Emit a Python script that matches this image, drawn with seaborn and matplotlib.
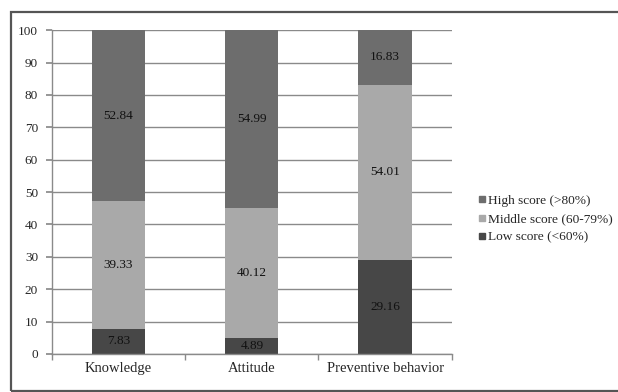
import matplotlib
matplotlib.use("Agg")
import matplotlib.pyplot as plt
from matplotlib.patches import Rectangle
import seaborn as sns
import pandas as pd

# ── Data ──────────────────────────────────────────────────────────
categories = ["Knowledge", "Attitude", "Preventive behavior"]
low_score = [7.83, 4.89, 29.16]
middle_score = [39.33, 40.12, 54.01]
high_score = [52.84, 54.99, 16.83]
series_names = ["High score (>80%)", "Middle score (60-79%)", "Low score (<60%)"]

# ── Style ─────────────────────────────────────────────────────────
sns.set_theme(style="white")
plt.rcParams["font.family"] = ["Liberation Serif", "DejaVu Serif"]

colors = {"high": "#6d6d6d", "middle": "#a9a9a9", "low": "#474747"}

df = pd.DataFrame({
    "category": categories,
    "low": low_score,
    "middle": middle_score,
    "high": high_score,
})
df["low_top"] = df["low"]
df["mid_top"] = df["low"] + df["middle"]
df["high_top"] = df["mid_top"] + df["high"]

fig = plt.figure(figsize=(6.18, 3.92), dpi=100)
ax = fig.add_axes([0.084, 0.097, 0.647, 0.826])

# stacked bars: draw cumulative totals back to front
for col, key in [("high_top", "high"), ("mid_top", "middle"), ("low_top", "low")]:
    sns.barplot(data=df, x="category", y=col, color=colors[key],
                width=0.4, saturation=1, linewidth=0, ax=ax, zorder=2)

# value labels in the middle of each segment
for i, row in df.iterrows():
    ax.text(i, row["low"] / 2, f"{row['low']:.2f}", ha="center", va="center",
            fontsize=9.5, color="#111111", zorder=3)
    ax.text(i, row["low"] + row["middle"] / 2, f"{row['middle']:.2f}",
            ha="center", va="center", fontsize=9.5, color="#111111", zorder=3)
    ax.text(i, row["mid_top"] + row["high"] / 2, f"{row['high']:.2f}",
            ha="center", va="center", fontsize=9.5, color="#111111", zorder=3)

ax.set_ylim(0, 100)
ax.set_xlim(-0.5, 2.5)
ax.set_yticks(range(0, 101, 10))
ax.yaxis.grid(True, color="#8a8a8a", linewidth=1.0, zorder=0)
ax.set_axisbelow(True)
ax.set_xlabel("")
ax.set_ylabel("")
ax.tick_params(axis="y", labelsize=9.5, length=4, color="#8a8a8a",
               direction="out", left=True, pad=6)
ax.tick_params(axis="x", labelsize=10.5, length=0, pad=6)

# category boundary ticks on the x axis
ax.set_xticks([-0.5, 0.5, 1.5, 2.5], minor=True)
ax.tick_params(axis="x", which="minor", length=4, color="#8a8a8a",
               direction="out", bottom=True)

for side in ["top", "right"]:
    ax.spines[side].set_visible(False)
for side in ["left", "bottom"]:
    ax.spines[side].set_color("#8a8a8a")
    ax.spines[side].set_linewidth(1.0)

handles = [
    plt.Line2D([0], [0], marker="s", linestyle="", markersize=5,
               markerfacecolor=colors[k], markeredgecolor=colors[k])
    for k in ["high", "middle", "low"]
]
fig.legend(handles, series_names, loc="center left",
           bbox_to_anchor=(0.774, 0.441), frameon=False, fontsize=9.6,
           handlelength=0.5, handletextpad=0.2, labelspacing=0.45,
           borderpad=0, borderaxespad=0)

# outer frame (right edge runs off the image, as in the scan)
fig.patches.append(Rectangle((0.017, 0.003), 1.05, 0.966,
                             transform=fig.transFigure, fill=False,
                             edgecolor="#555555", linewidth=1.6))

fig.savefig("out.png", dpi=100)
